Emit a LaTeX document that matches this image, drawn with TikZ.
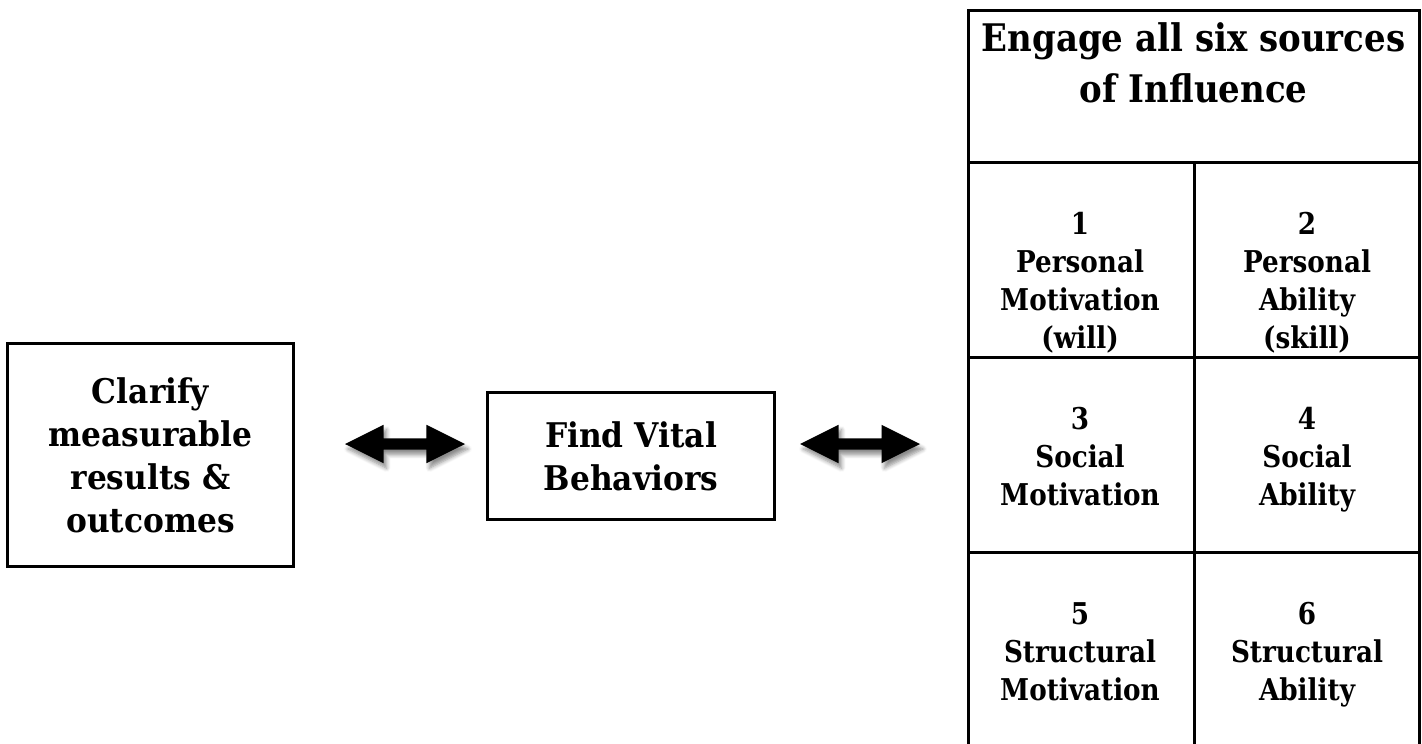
\documentclass[tikz,border=0pt]{standalone}
\usepackage{fontspec}
\setmainfont{DejaVu Serif}[FakeStretch=0.92]
\newfontfamily\narrowserif{DejaVu Serif}[FakeStretch=0.875]
\newfontfamily\headserif{DejaVu Serif}[FakeStretch=0.895]
\usetikzlibrary{shapes.arrows,shadows,shadows.blur}

\newcommand{\headfont}{\headserif\fontsize{38}{51}\selectfont\bfseries}
\newcommand{\boxfont}{\fontsize{34}{43}\selectfont\bfseries}
\newcommand{\cellfont}{\narrowserif\fontsize{30}{38}\selectfont\bfseries}

\tikzset{
  stepbox/.style={draw, line width=3pt, align=center, inner sep=0pt, font=\boxfont},
  twoway/.style={double arrow, fill=black, inner xsep=0pt, inner ysep=5.5pt, minimum height=120pt,
    double arrow head extend=13.5pt, double arrow tip angle=53,
    blur shadow={shadow xshift=3pt, shadow yshift=-5pt, shadow blur steps=6, shadow blur radius=4pt, shadow opacity=45}},
  cell/.style={anchor=north, align=center, inner sep=0pt, font=\cellfont},
  grid/.style={line width=3pt}
}

\begin{document}
\begin{tikzpicture}[x=1pt, y=-1pt]
\useasboundingbox (0,0) rectangle (1422,744);
% the two steps
\node[stepbox, minimum width=286, minimum height=223] (clarify) at (150.5,455) {Clarify\\measurable\\results \&\\outcomes};
\node[stepbox, minimum width=287, minimum height=127] (vital) at (631,456) {Find Vital\\Behaviors};
% two-way arrows between them
\node[twoway] (linkA) at (405,444) {};
\node[twoway] (linkB) at (860,444) {};
% table of the six sources
\draw[grid] (968,10.5) rectangle (1419.5,748);
\draw[grid] (968,162) -- (1419.5,162) (968,357) -- (1419.5,357) (968,552) -- (1419.5,552);
\draw[grid] (1194,162) -- (1194,748);
\node[anchor=north, align=center, inner sep=0pt, font=\headfont] (head) at (1193.5,22) {Engage all six sources\\of Influence};
\foreach \n/\x/\y/\txt in {1/1080/212/{Personal\\Motivation\\(will)}, 2/1307/212/{Personal\\Ability\\(skill)},
  3/1080/407/{Social\\Motivation}, 4/1307/407/{Social\\Ability},
  5/1080/602/{Structural\\Motivation}, 6/1307/602/{Structural\\Ability}} {
  \node[cell] (src\n) at (\x,\y) {\n\\\txt};
}
\end{tikzpicture}
\end{document}
